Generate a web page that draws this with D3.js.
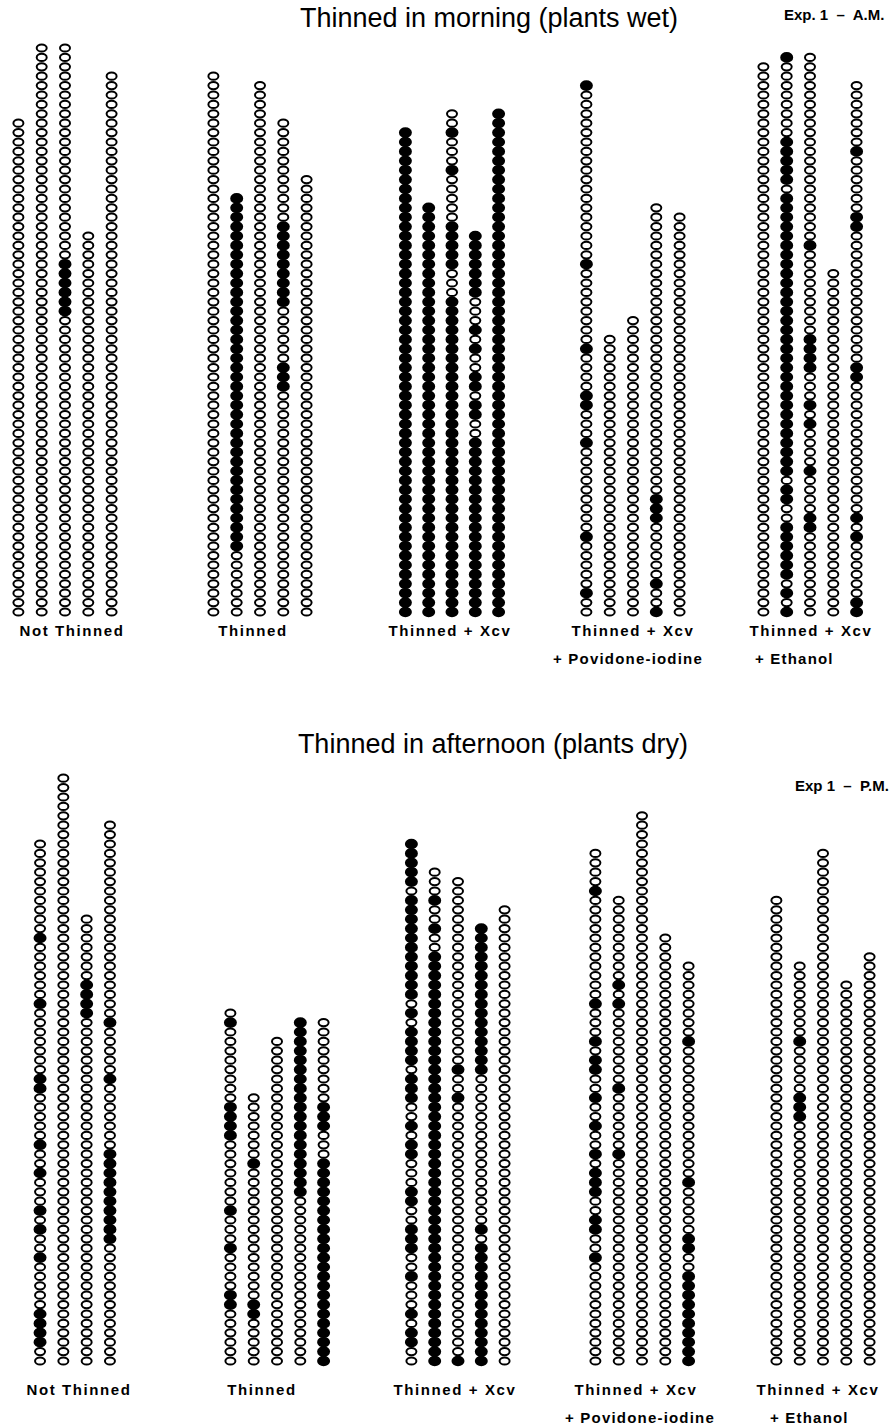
<!DOCTYPE html>
<html>
<head>
<meta charset="utf-8">
<script src="https://cdn.jsdelivr.net/npm/d3@7"></script>
<style>
  body { margin: 0; background: #fff; }
  text { font-family: "Liberation Sans", Arial, sans-serif; fill: #000; }
</style>
</head>
<body>
<script>
// Plants per row (one column = one row of plants), counted from the bottom.
// filled = runs [from, to] of plants with symptoms (black dots)
var groupNames = ["Not Thinned", "Thinned", "Thinned + Xcv", "Thinned + Xcv|+ Povidone-iodine", "Thinned + Xcv|+ Ethanol"];

// Exp 1 - A.M. (plants wet)
var amCounts = [
    [53, 61, 61, 41, 58],
    [58, 45, 57, 53, 47],
    [52, 44, 54, 41, 54],
    [57, 30, 32, 44, 43],
    [59, 60, 60, 37, 57]
];
var amFilled = [
    [[], [], [[32, 37]], [], []],
    [[], [[7, 44]], [], [[24, 26], [33, 41]], []],
    [[[0, 51]], [[0, 43]], [[0, 33], [37, 41], [47, 47], [51, 51]],
     [[0, 18], [21, 22], [24, 25], [28, 28], [30, 30], [34, 40]], [[0, 53]]],
    [[[2, 2], [8, 8], [18, 18], [22, 23], [28, 28], [37, 37], [56, 56]], [], [], [[0, 0], [3, 3], [10, 12]], []],
    [[], [[0, 0], [2, 2], [4, 9], [12, 13], [15, 44], [46, 50], [59, 59]],
     [[9, 10], [15, 15], [20, 20], [22, 22], [26, 29], [39, 39]], [], [[0, 1], [8, 8], [10, 10], [25, 26], [41, 42], [49, 49]]]
];

// Exp 1 - P.M. (plants dry)
var pmCounts = [
    [56, 63, 48, 58],
    [38, 29, 35, 37, 37],
    [56, 53, 52, 47, 49],
    [55, 50, 59, 46, 43],
    [50, 43, 55, 41, 44]
];
var pmFilled = [
    [[[2, 5], [11, 11], [14, 14], [16, 16], [20, 20], [23, 23], [29, 30], [38, 38], [45, 45]], [], [[37, 40]], [[13, 22], [30, 30], [36, 36]]],
    [[[6, 7], [12, 12], [16, 16], [24, 27], [36, 36]], [[5, 6], [21, 21]], [], [[18, 36]], [[0, 21], [25, 27]]],
    [[[2, 3], [5, 5], [9, 9], [12, 14], [17, 18], [22, 23], [25, 25], [28, 30], [32, 35], [37, 37], [39, 49], [51, 55]],
     [[0, 43], [46, 46], [49, 49]], [[0, 0], [28, 28], [31, 31]], [[0, 12], [14, 14], [31, 46]], []],
    [[[11, 11], [14, 15], [18, 20], [22, 22], [25, 25], [28, 28], [31, 32], [34, 34], [38, 38], [50, 50]],
     [[22, 22], [29, 29], [38, 38], [40, 40]], [], [], [[0, 9], [12, 13], [19, 19], [34, 34]]],
    [[], [[26, 28], [34, 34]], [], [], []]
];

var width = 892;
var height = 1428;
var pitch = 9.4;     // vertical distance between plants
var colGap = 23.3;   // distance between rows

var svg = d3.select("body").append("svg")
    .attr("width", width)
    .attr("height", height);

var panels = [
    { title: "Thinned in morning (plants wet)", titleX: 489, titleY: 27,
      exp: "Exp. 1  \u2013  A.M.", expX: 784, expY: 20,
      base: 612, counts: amCounts, filled: amFilled,
      centers: [65, 260, 452, 633, 810],
      labelY: 636, labelX: [72, 253, 450, 633, 811], line2X: [0, 0, 0, 628, 755] },
    { title: "Thinned in afternoon (plants dry)", titleX: 493, titleY: 753,
      exp: "Exp 1  \u2013  P.M.", expX: 795, expY: 791,
      base: 1361, counts: pmCounts, filled: pmFilled,
      centers: [75, 277, 458, 642, 823],
      labelY: 1395, labelX: [79, 262, 455, 636, 818], line2X: [0, 0, 0, 640, 770] }
];

function isFilled(runs, i) {
    return runs.some(function(r) { return i >= r[0] && i <= r[1]; });
}

panels.forEach(function(p) {
    var y = d3.scaleLinear().domain([0, 1]).range([p.base, p.base - pitch]);

    svg.append("text")
        .attr("x", p.titleX).attr("y", p.titleY)
        .attr("text-anchor", "middle")
        .style("font-size", "27px")
        .text(p.title);

    svg.append("text")
        .attr("x", p.expX).attr("y", p.expY)
        .style("font-size", "15px").style("font-weight", "bold")
        .style("white-space", "pre")
        .text(p.exp);

    p.counts.forEach(function(cols, g) {
        var half = (cols.length - 1) / 2 * colGap;
        var x = d3.scaleLinear().domain([0, cols.length - 1])
            .range([p.centers[g] - half, p.centers[g] + half]);

        var dots = [];
        cols.forEach(function(n, c) {
            for (var i = 0; i < n; i++) {
                dots.push({ c: c, i: i, on: isFilled(p.filled[g][c], i) });
            }
        });

        svg.append("g").selectAll("ellipse")
            .data(dots)
            .join("ellipse")
            .attr("cx", function(d) { return x(d.c); })
            .attr("cy", function(d) { return y(d.i); })
            .attr("rx", function(d) { return d.on ? 5.5 : 5.0; })
            .attr("ry", function(d) { return d.on ? 4.3 : 3.6; })
            .attr("fill", function(d) { return d.on ? "#000" : "#fff"; })
            .attr("stroke", "#000")
            .attr("stroke-width", 2);

        // group label, second line if any
        var lines = groupNames[g].split("|");
        var lab = svg.append("g").style("font-size", "15px").style("font-weight", "bold");
        lab.append("text")
            .attr("x", p.labelX[g]).attr("y", p.labelY)
            .attr("text-anchor", "middle")
            .style("letter-spacing", "1.6px")
            .text(lines[0]);
        if (lines[1]) {
            lab.append("text")
                .attr("x", p.line2X[g]).attr("y", p.labelY + 28)
                .attr("text-anchor", g === 4 ? "start" : "middle")
                .style("letter-spacing", "1.2px")
                .text(lines[1]);
        }
    });
});
</script>
</body>
</html>
